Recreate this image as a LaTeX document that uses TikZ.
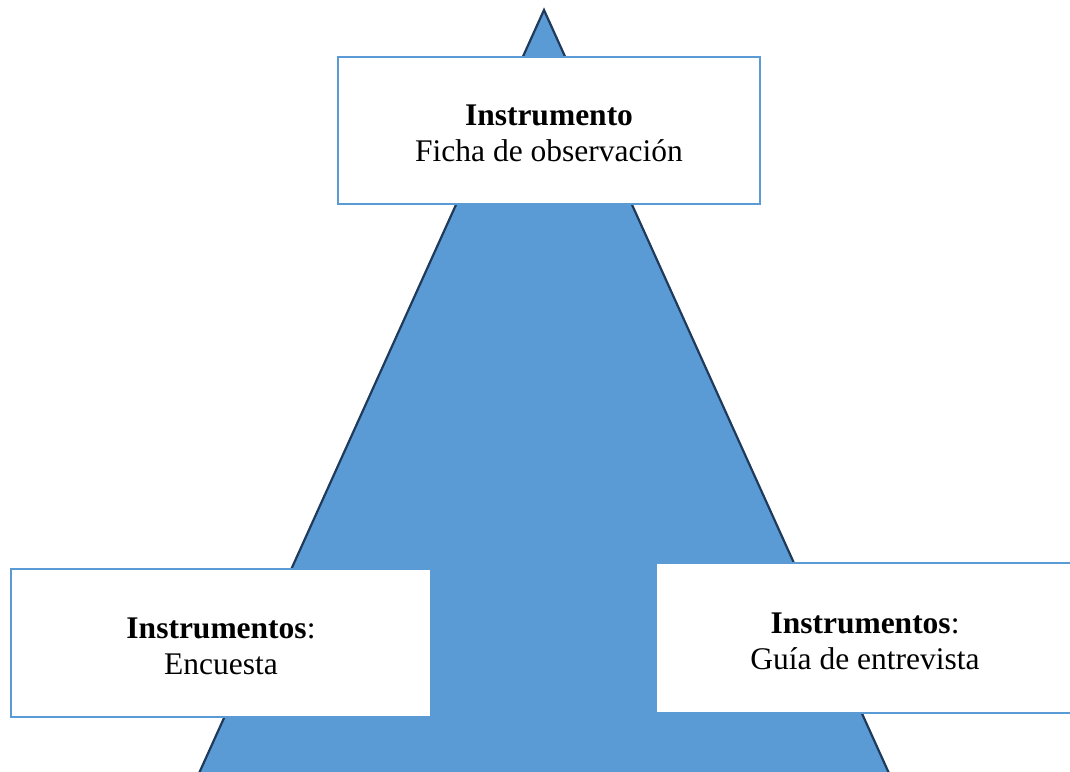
\documentclass[tikz,border=0pt]{standalone}
\usepackage{fontspec}
\setmainfont{Liberation Serif}
\usepackage{tikz}
\usepackage{xcolor}

\definecolor{trifill}{HTML}{5B9BD5}
\definecolor{triline}{HTML}{1F3A5A}
\definecolor{boxblue}{HTML}{5B9BD5}

\begin{document}
\begin{tikzpicture}[x=1pt, y=-1pt,
    box/.style={draw=boxblue, line width=2pt, fill=white, inner sep=0pt},
    label text/.style={align=center, inner sep=0pt, font=\fontsize{31.5}{36}\selectfont}]
    \useasboundingbox (0,0) rectangle (1070,771);
    \clip (0,0) rectangle (1070,771);

    \coordinate (A) at (544,10);
    \coordinate (B) at (191,791);
    \coordinate (C) at (897,791);

    \filldraw[fill=trifill, draw=triline, line width=2.2pt, line join=miter] (A) -- (B) -- (C) -- cycle;

    \node[box, minimum width=422pt, minimum height=147pt] (top) at (549,130) {};
    \node[box, minimum width=420pt, minimum height=148pt] (left) at (221,643) {};
    \node[box, minimum width=418pt, minimum height=150pt] (right) at (865,638) {};

    \node[label text] (top text) at ([yshift=-3pt]top.center)
        {\textbf{Instrumento}\\Ficha de observación};
    \node[label text] (left text) at ([yshift=-3pt]left.center)
        {\textbf{Instrumentos}:\\Encuesta};
    \node[label text] (right text) at ([yshift=-3pt]right.center)
        {\textbf{Instrumentos}:\\Guía de entrevista};
\end{tikzpicture}
\end{document}
